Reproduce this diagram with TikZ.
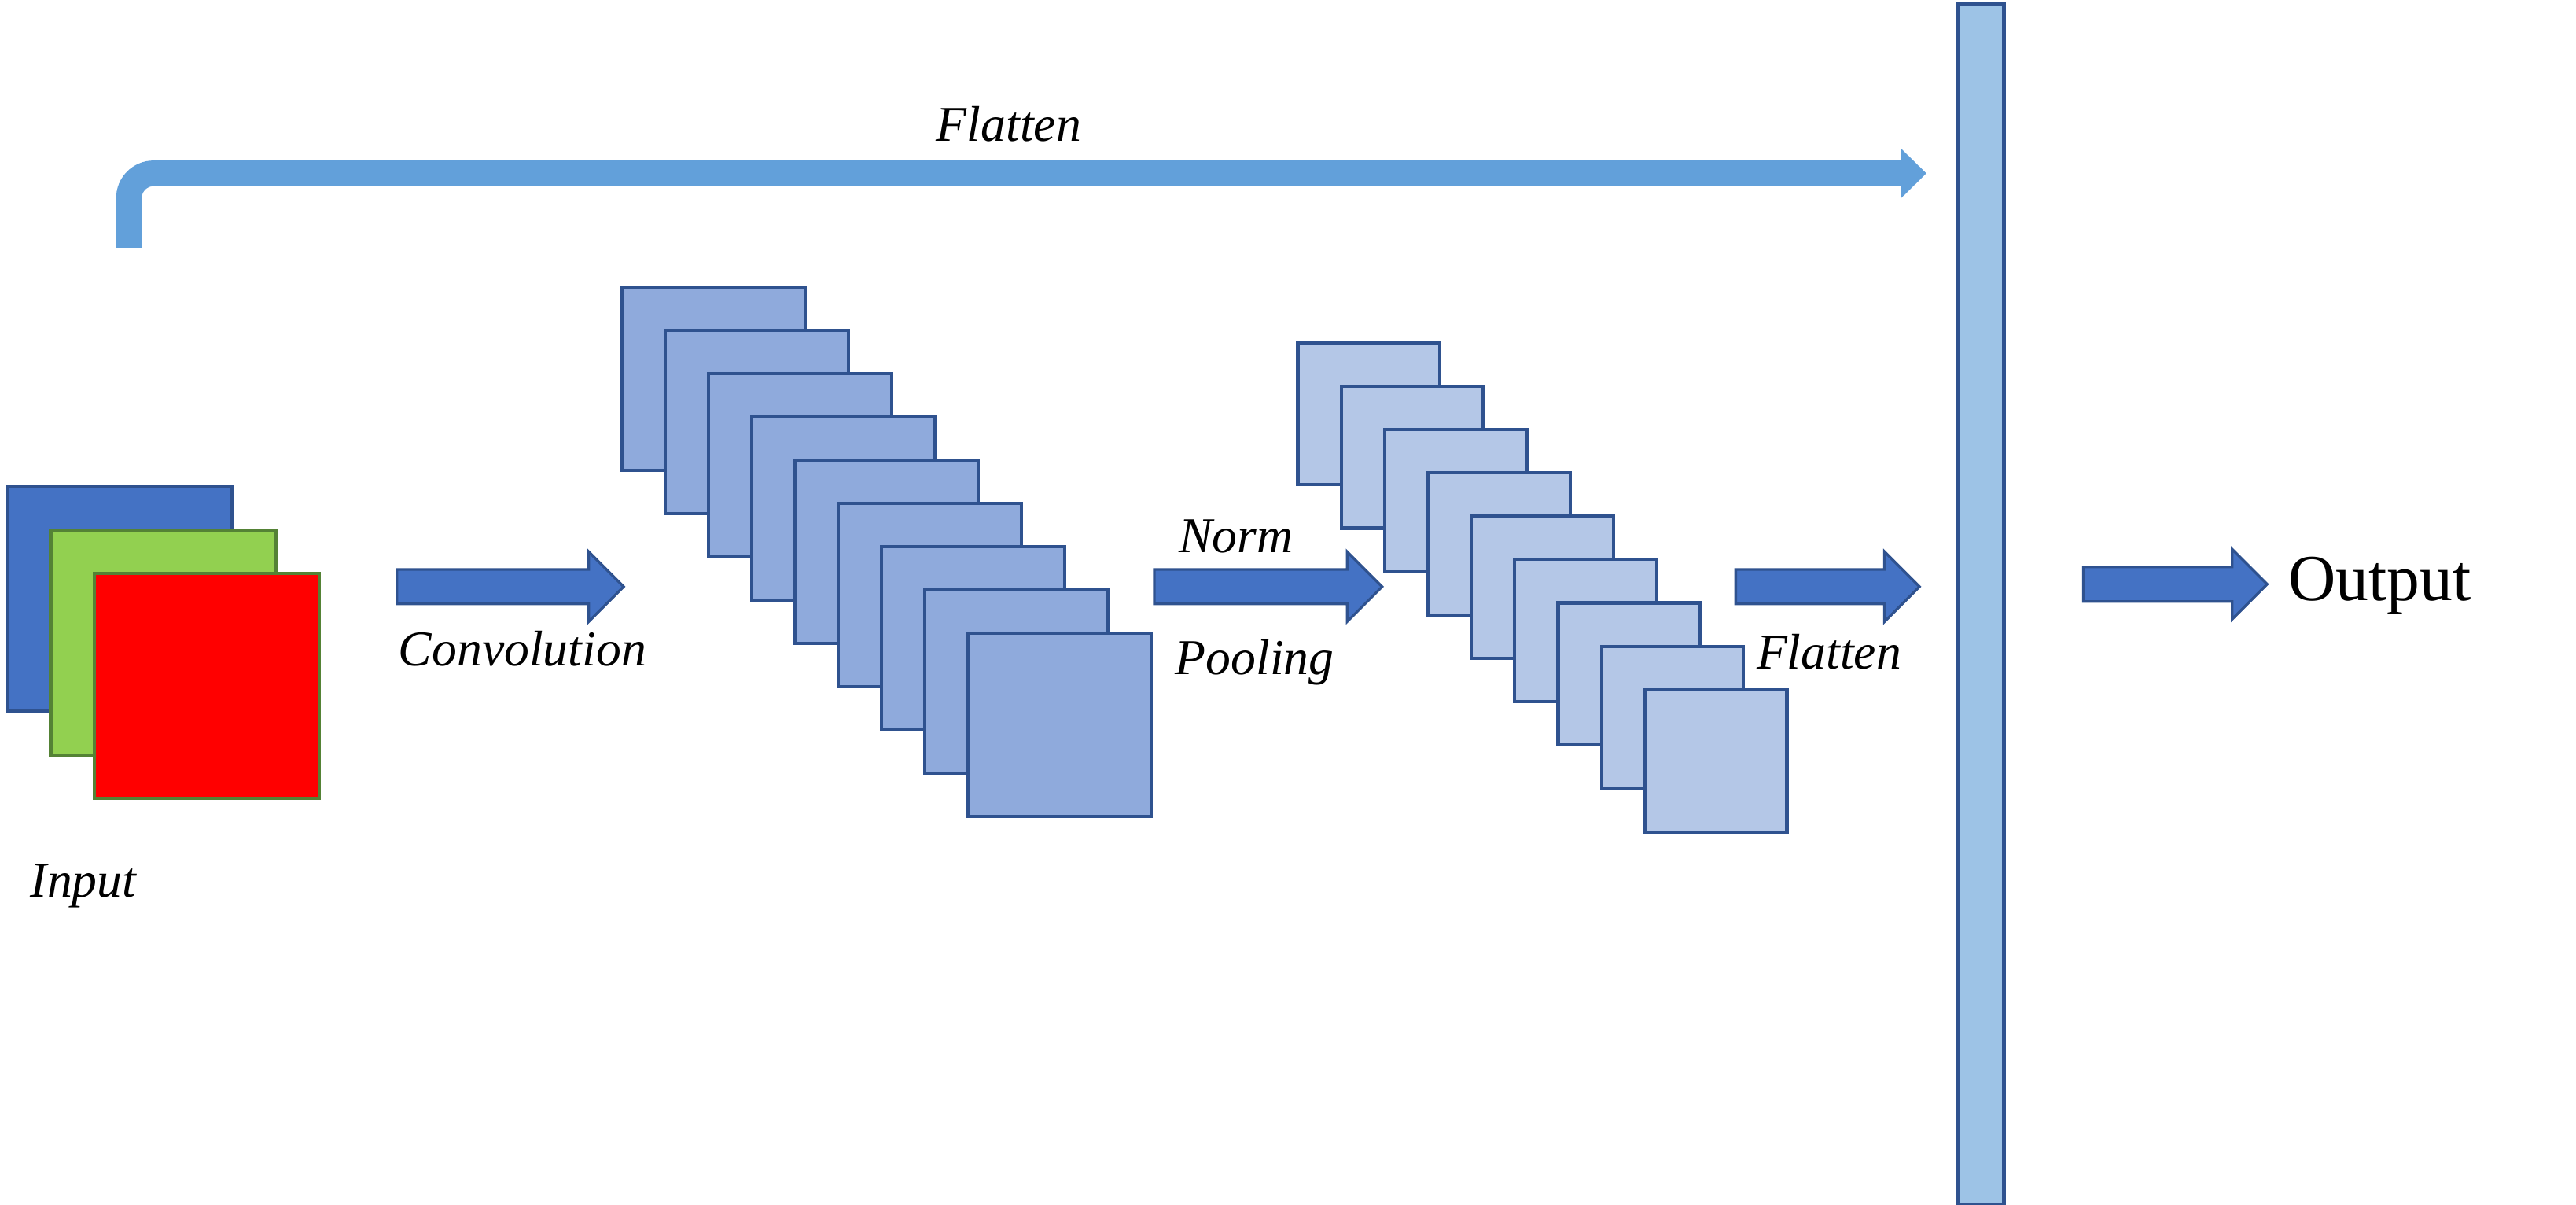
\documentclass[tikz,border=0pt]{standalone}
\usepackage{fontspec}
\setmainfont{Liberation Serif}
\usetikzlibrary{shapes.arrows,arrows.meta}

\definecolor{inblue}{HTML}{4472C4}
\definecolor{edgeblue}{HTML}{2F528F}
\definecolor{ingreen}{HTML}{92D050}
\definecolor{edgegreen}{HTML}{548235}
\definecolor{convfill}{HTML}{8FAADC}
\definecolor{poolfill}{HTML}{B4C7E7}
\definecolor{densefill}{HTML}{9DC3E6}
\definecolor{skipblue}{HTML}{62A0DA}

\begin{document}
\begin{tikzpicture}[x=1pt, y=-1pt,
    fmap/.style={rectangle, draw=edgeblue, line width=2pt, inner sep=0pt, anchor=north west},
    blockarrow/.style={single arrow, draw=edgeblue, fill=inblue, line width=1.6pt,
      inner xsep=0pt, inner ysep=9.7pt, minimum width=42pt,
      single arrow head extend=10.8pt, anchor=tail},
    lbl/.style={font=\fontsize{30.5}{36}\selectfont\itshape, inner sep=0pt, anchor=base}]
  \useasboundingbox (0,0) rectangle (1568,733);

  % input channels
  \node[fmap, fill=inblue, minimum size=137pt] (inB) at (3.2,294.7) {};
  \node[fmap, fill=ingreen, draw=edgegreen, minimum size=137pt] (inG) at (29.9,321.4) {};
  \node[fmap, fill=red, draw=edgegreen, minimum size=137pt] (inR) at (56.5,348) {};
  \node[lbl] (inlbl) at (50.8,546) {Input};

  % convolution maps
  \foreach \i in {0,...,8}
    \node[fmap, fill=convfill, minimum size=111.5pt] (conv\i) at ({377.6+26.35*\i},{173.6+26.35*\i}) {};

  % pooled maps
  \foreach \i in {0,...,8}
    \node[fmap, fill=poolfill, minimum size=86.5pt] (pool\i) at ({789+26.4*\i},{207.5+26.4*\i}) {};

  % dense layer
  \node[rectangle, draw=edgeblue, fill=densefill, line width=2.4pt, inner sep=0pt,
    minimum width=28.2pt, minimum height=730.6pt, anchor=north west] (dense) at (1190.2,1.2) {};

  % block arrows
  \node[blockarrow, minimum height=138pt] (convarrow) at (240.8,357) {};
  \node[blockarrow, minimum height=138.7pt] (poolarrow) at (701.8,357) {};
  \node[blockarrow, minimum height=111.9pt] (flatarrow) at (1055.7,357) {};
  \node[blockarrow, minimum height=111.9pt] (outarrow) at (1267.3,355.5) {};

  \node[lbl] (convlbl) at (318,405.2) {Convolution};
  \node[lbl] (normlbl) at (752.3,336) {Norm};
  \node[lbl] (poollbl) at (763.7,410.5) {Pooling};
  \node[lbl] (flatlbl) at (1113.3,407) {Flatten};
  \node[font=\fontsize{40}{48}\selectfont, inner sep=0pt, anchor=base] (outlbl) at (1448.5,365.4) {Output};

  % skip connection on top
  \coordinate (skipstart) at (78.5,150.7);
  \coordinate (skipend) at (1172.6,105.5);
  \draw[skipblue, line width=15.6pt, rounded corners=15pt,
    -{Triangle[width=29.6pt,length=15.6pt]}] (skipstart) |- (skipend);
  \node[lbl] (flattop) at (614,86) {Flatten};
\end{tikzpicture}
\end{document}
